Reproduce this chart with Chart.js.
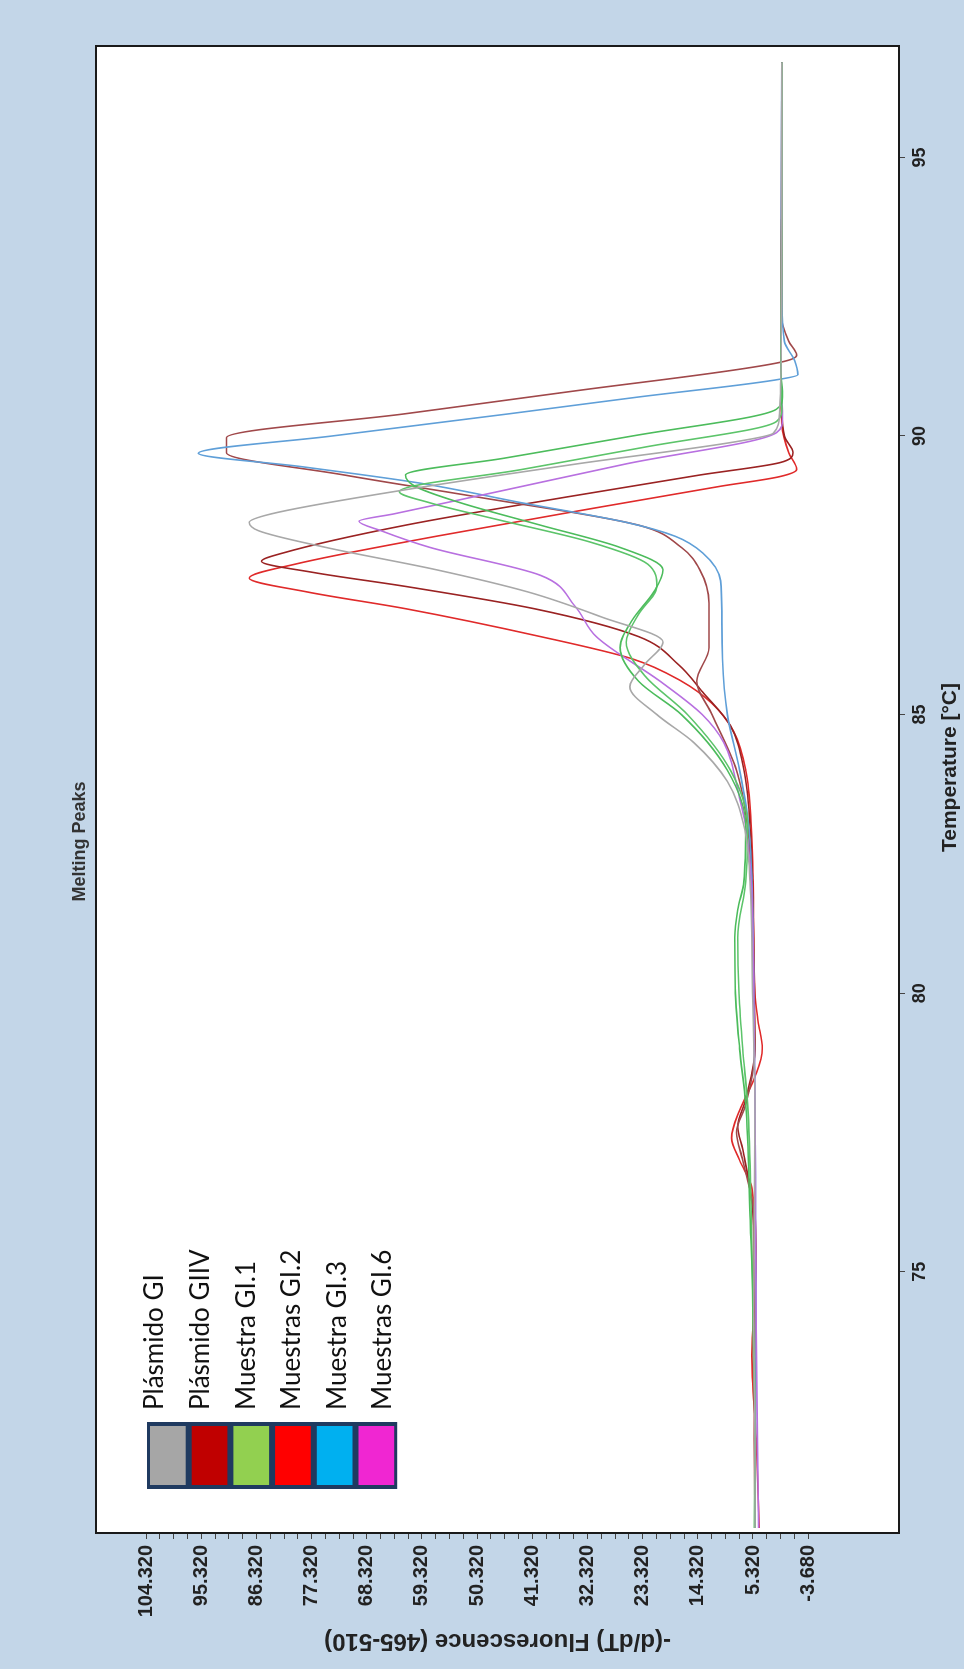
<!DOCTYPE html>
<html>
<head>
<meta charset="utf-8">
<title>Melting Peaks</title>
<script src="https://cdn.jsdelivr.net/npm/chart.js@4"></script>
<style>
  html, body { margin: 0; padding: 0; }
  body { width: 964px; height: 1669px; overflow: hidden; background: #c3d6e8; position: relative; }
  /* the whole chart is turned a quarter turn to the left, as in the picture */
  #wrap { position: absolute; left: 0; top: 0; width: 1669px; height: 964px;
          transform-origin: 0 0; transform: translate(0, 1669px) rotate(-90deg); }
</style>
</head>
<body>
<div id="wrap"><canvas id="meltChart" width="1669" height="964"></canvas></div>
<script>
// axis ticks
const tempTicks = [75, 80, 85, 90, 95];
const fluorTicks = [-3.68, 5.32, 14.32, 23.32, 32.32, 41.32, 50.32, 59.32, 68.32, 77.32, 86.32, 95.32, 104.32];

// legend (pasted colour block in the original)
const legendLabels = ['Plásmido GI', 'Plásmido GIIV', 'Muestra GI.1', 'Muestras GI.2', 'Muestra GI.3', 'Muestras GI.6'];
const legendColors = ['#a6a6a6', '#c00000', '#92d050', '#ff0000', '#00b0f0', '#f026d2'];

// melting curves: temperature (°C) and -(d/dT) fluorescence
const tGray = [70.4, 72, 74, 76, 78, 80, 82, 83, 83.8, 84.5, 85.0, 85.5, 85.9, 86.3, 86.75, 87.2, 87.6, 88.0, 88.3, 88.45, 88.6, 89.0, 89.5, 89.9, 90.05, 90.4, 91, 92, 94, 96.7];
const vGray = [5.0, 5.0, 5.2, 5.1, 5.0, 5.4, 5.8, 6.8, 9.5, 15.0, 21.0, 25.4, 23.0, 20.0, 30.0, 42.0, 57.0, 75.0, 86.0, 87.5, 84.0, 64.0, 34.0, 8.0, 2.0, 1.0, 0.8, 0.7, 0.6, 0.6];

const tBrown = [70.4, 72, 74, 76, 77.0, 77.5, 78.0, 79, 80, 82, 83, 84, 85, 85.6, 86.2, 87.0, 87.6, 88.0, 88.4, 88.9, 89.3, 89.7, 89.97, 90.4, 90.8, 91.32, 91.45, 91.7, 92.2, 94, 96.7];
const vBrown = [5.0, 5.0, 5.3, 5.2, 7.0, 8.0, 6.5, 5.0, 5.2, 5.6, 6.2, 8.0, 12.0, 14.5, 12.5, 12.5, 14.0, 17.0, 24.0, 50.0, 72.0, 91.2, 91.2, 62.0, 35.0, 1.0, -1.8, -0.5, 0.8, 0.7, 0.6];

const tGreenA = [70.4, 72, 74, 76, 78, 79, 80, 81, 81.5, 82, 83, 84, 85, 85.6, 86.2, 86.7, 87.2, 87.6, 88.0, 88.4, 88.8, 89.1, 89.3, 89.6, 90.0, 90.48, 90.7, 91.2, 92, 94, 96.7];
const vGreenA = [5.0, 5.0, 5.2, 5.8, 6.5, 7.5, 8.2, 8.3, 7.8, 6.8, 6.5, 9.5, 17.0, 24.0, 27.0, 25.0, 21.5, 20.0, 27.0, 40.0, 53.0, 60.5, 62.0, 46.0, 25.0, 1.5, 0.5, 0.8, 0.7, 0.6, 0.6];

const tGreenB = [70.4, 72, 74, 76, 78, 79, 80, 81, 82, 83, 84, 85, 85.7, 86.3, 86.8, 87.3, 87.7, 88.1, 88.5, 88.8, 89.0, 89.4, 89.8, 90.26, 90.5, 91, 92, 94, 96.7];
const vGreenB = [5.1, 5.0, 5.3, 5.6, 6.2, 7.0, 7.6, 7.8, 6.5, 6.2, 9.0, 16.0, 23.0, 26.0, 24.0, 21.0, 22.5, 32.0, 47.0, 58.0, 63.0, 43.0, 23.0, 1.5, 0.6, 0.8, 0.7, 0.6, 0.6];

const tRedA = [70.4, 72, 73.5, 75, 76.5, 77.0, 77.4, 77.9, 78.5, 79.0, 79.5, 80, 82, 83, 84, 84.7, 85.2, 85.6, 86.0, 86.4, 86.9, 87.2, 87.45, 87.7, 88.2, 88.7, 89.1, 89.27, 89.4, 89.7, 90.2, 91, 92, 94, 96.7];
const vRedA = [4.3, 4.8, 5.5, 4.8, 5.5, 7.5, 8.8, 7.5, 5.0, 3.8, 4.5, 5.0, 5.3, 5.6, 6.5, 8.5, 12.0, 17.0, 25.0, 40.0, 62.0, 78.0, 87.5, 80.0, 57.0, 31.5, 10.5, 1.0, -1.8, -0.5, 0.6, 0.8, 0.7, 0.6, 0.6];

const tRedB = [70.4, 72, 74, 76, 77.2, 77.6, 78.1, 79, 80, 82, 83, 84, 84.8, 85.4, 85.9, 86.4, 86.9, 87.3, 87.55, 87.75, 87.9, 88.4, 88.9, 89.3, 89.52, 89.7, 90.0, 91, 92, 94, 96.7];
const vRedB = [5.0, 5.1, 5.0, 5.3, 7.0, 7.8, 6.5, 5.0, 5.1, 5.4, 5.8, 6.8, 9.0, 13.5, 17.5, 24.0, 41.0, 62.0, 77.0, 85.5, 82.0, 62.0, 36.0, 14.0, 1.0, -1.2, 0.2, 0.8, 0.7, 0.6, 0.6];

const tBlue = [70.4, 72, 74, 76, 78, 80, 82, 83, 84, 85, 86, 86.8, 87.4, 87.9, 88.2, 88.45, 88.8, 89.16, 89.45, 89.69, 90.0, 90.4, 90.7, 91.0, 91.1, 91.35, 91.7, 92.5, 94, 96.7];
const vBlue = [5.0, 4.9, 4.8, 4.9, 5.0, 5.2, 5.5, 6.0, 7.5, 9.5, 10.3, 10.4, 10.6, 13.5, 18.0, 26.0, 43.0, 60.0, 79.0, 95.8, 74.0, 45.0, 24.0, 2.0, -2.0, -1.5, 0.2, 0.6, 0.7, 0.6];

const tViolet = [70.4, 72, 74, 76, 78, 80, 82, 83, 83.5, 84.5, 85.0, 85.6, 86.4, 86.95, 87.5, 88.0, 88.3, 88.47, 88.6, 89.0, 89.5, 90.06, 90.3, 91, 92, 94, 96.7];
const vViolet = [4.4, 4.6, 4.8, 4.9, 5.0, 5.2, 5.6, 6.5, 7.5, 10.1, 13.6, 20.5, 30.9, 34.4, 40.0, 58.0, 66.0, 69.6, 64.0, 47.0, 26.0, 1.5, 0.5, 0.8, 0.7, 0.6, 0.6];

function toPoints(ts, vs) {
    return ts.map((t, i) => ({ x: t, y: vs[i] }));
}

function curve(label, ts, vs, color) {
    return {
        label: label,
        data: toPoints(ts, vs),
        borderColor: color,
        backgroundColor: color,
        borderWidth: 1.6,
        pointRadius: 0,
        cubicInterpolationMode: 'monotone',
        fill: false
    };
}

const datasets = [
    curve('Plásmido GI', tGray, vGray, '#a8a8a8'),
    curve('Muestra GI.1', tGreenA, vGreenA, '#4cbc5c'),
    curve('Muestra GI.1', tGreenB, vGreenB, '#5cc46a'),
    curve('Muestras GI.6', tViolet, vViolet, '#b870e0'),
    curve('Muestra GI.3', tBlue, vBlue, '#5f9fd8'),
    curve('Plásmido GIIV', tBrown, vBrown, '#a0484a'),
    curve('Muestras GI.2', tRedB, vRedB, '#9a2222'),
    curve('Muestras GI.2', tRedA, vRedA, '#e02a2a')
];

// white plot area with a black frame, plus the temperature caption
const plotBox = {
    id: 'plotBox',
    beforeDraw(chart) {
        const { ctx, chartArea: a } = chart;
        ctx.save();
        ctx.fillStyle = '#ffffff';
        ctx.fillRect(a.left, a.top, a.width, a.height);
        ctx.restore();
    },
    afterDraw(chart) {
        const { ctx, chartArea: a } = chart;
        ctx.save();
        ctx.strokeStyle = '#1a1a1a';
        ctx.lineWidth = 2;
        ctx.strokeRect(a.left, a.top, a.width, a.height);
        // axis caption sits a little off centre in the original
        ctx.fillStyle = '#222222';
        ctx.font = 'bold 21px "Liberation Sans"';
        ctx.textAlign = 'center';
        ctx.textBaseline = 'middle';
        ctx.fillText('Temperature [°C]', (a.left + a.right) / 2 + 22, a.bottom + 51);
        ctx.restore();
    }
};

// colour block legend inside the plot
const sampleLegend = {
    id: 'sampleLegend',
    afterDatasetsDraw(chart) {
        const { ctx, chartArea } = chart;
        const x0 = chartArea.left + 44;
        const y0 = chartArea.top + 51;
        const w = 67;
        const rowH = 41.7;
        ctx.save();
        ctx.fillStyle = '#1f3a60';
        ctx.fillRect(x0, y0, w, rowH * legendColors.length);
        legendColors.forEach((c, i) => {
            ctx.fillStyle = c;
            ctx.fillRect(x0 + 4, y0 + i * rowH + 3, w - 8, rowH - 6);
        });
        ctx.fillStyle = '#111111';
        ctx.font = '26px Lato';
        ctx.textBaseline = 'middle';
        ctx.textAlign = 'left';
        legendLabels.forEach((t, i) => {
            ctx.fillText(t, x0 + w + 12, chartArea.top + 59 + i * 45.6);
        });
        ctx.restore();
    }
};

const majorSet = new Set(fluorTicks.map(v => v.toFixed(2)));

document.addEventListener('DOMContentLoaded', function() {
    const ctx = document.getElementById('meltChart').getContext('2d');
    const chart = new Chart(ctx, {
        type: 'line',
        data: { datasets: datasets },
        options: {
            responsive: false,
            animation: false,
            devicePixelRatio: 1,
            layout: { padding: { left: 0, right: 14, top: 0, bottom: 0 } },
            plugins: {
                legend: { display: false },
                tooltip: { enabled: false },
                title: {
                    display: true,
                    text: 'Melting Peaks',
                    color: '#333333',
                    font: { family: 'Liberation Sans', size: 18, weight: 'bold' },
                    padding: { top: 69.2, bottom: 5.2 }
                }
            },
            scales: {
                x: {
                    type: 'linear',
                    min: 70.31,
                    max: 97.0,
                    afterBuildTicks: function(scale) {
                        scale.ticks = tempTicks.map(v => ({ value: v }));
                    },
                    afterFit: function(scale) {
                        scale.height = 65;
                    },
                    grid: { drawOnChartArea: false, tickLength: 6, color: '#444444' },
                    border: { display: false },
                    ticks: {
                        color: '#222222',
                        padding: 4,
                        maxRotation: 0,
                        autoSkip: false,
                        font: { family: 'Liberation Sans', size: 18, weight: 'bold' }
                    },
                    title: { display: false }
                },
                y: {
                    type: 'linear',
                    min: -18.5,
                    max: 112.5,
                    afterBuildTicks: function(scale) {
                        // minor ticks: three between each labelled tick
                        const out = [];
                        for (let i = 0; i < fluorTicks.length - 1; i++) {
                            const a = fluorTicks[i], b = fluorTicks[i + 1];
                            for (let k = 0; k < 4; k++) out.push({ value: a + (b - a) * k / 4 });
                        }
                        out.push({ value: fluorTicks[fluorTicks.length - 1] });
                        scale.ticks = out;
                    },
                    afterFit: function(scale) {
                        scale.width = 136;
                    },
                    grid: { drawOnChartArea: false, tickLength: 6, color: '#444444' },
                    border: { display: false },
                    ticks: {
                        color: '#222222',
                        padding: 6,
                        autoSkip: false,
                        font: { family: 'Liberation Sans', size: 20, weight: 'bold' },
                        callback: function(value) {
                            return majorSet.has(value.toFixed(2)) ? value.toFixed(3) : '';
                        }
                    },
                    title: {
                        display: true,
                        text: '-(d/dT) Fluorescence (465-510)',
                        color: '#222222',
                        font: { family: 'Liberation Sans', size: 24, weight: 'bold' },
                        padding: { top: 13.6, bottom: 0 }
                    }
                },
                // empty strip at the far side so the page title centres like the original
                edge: {
                    type: 'linear',
                    position: 'right',
                    display: true,
                    grid: { display: false },
                    border: { display: false },
                    ticks: { display: false },
                    afterFit: function(scale) {
                        scale.width = 32;
                    }
                }
            }
        },
        plugins: [plotBox, sampleLegend]
    });
});
</script>
</body>
</html>
